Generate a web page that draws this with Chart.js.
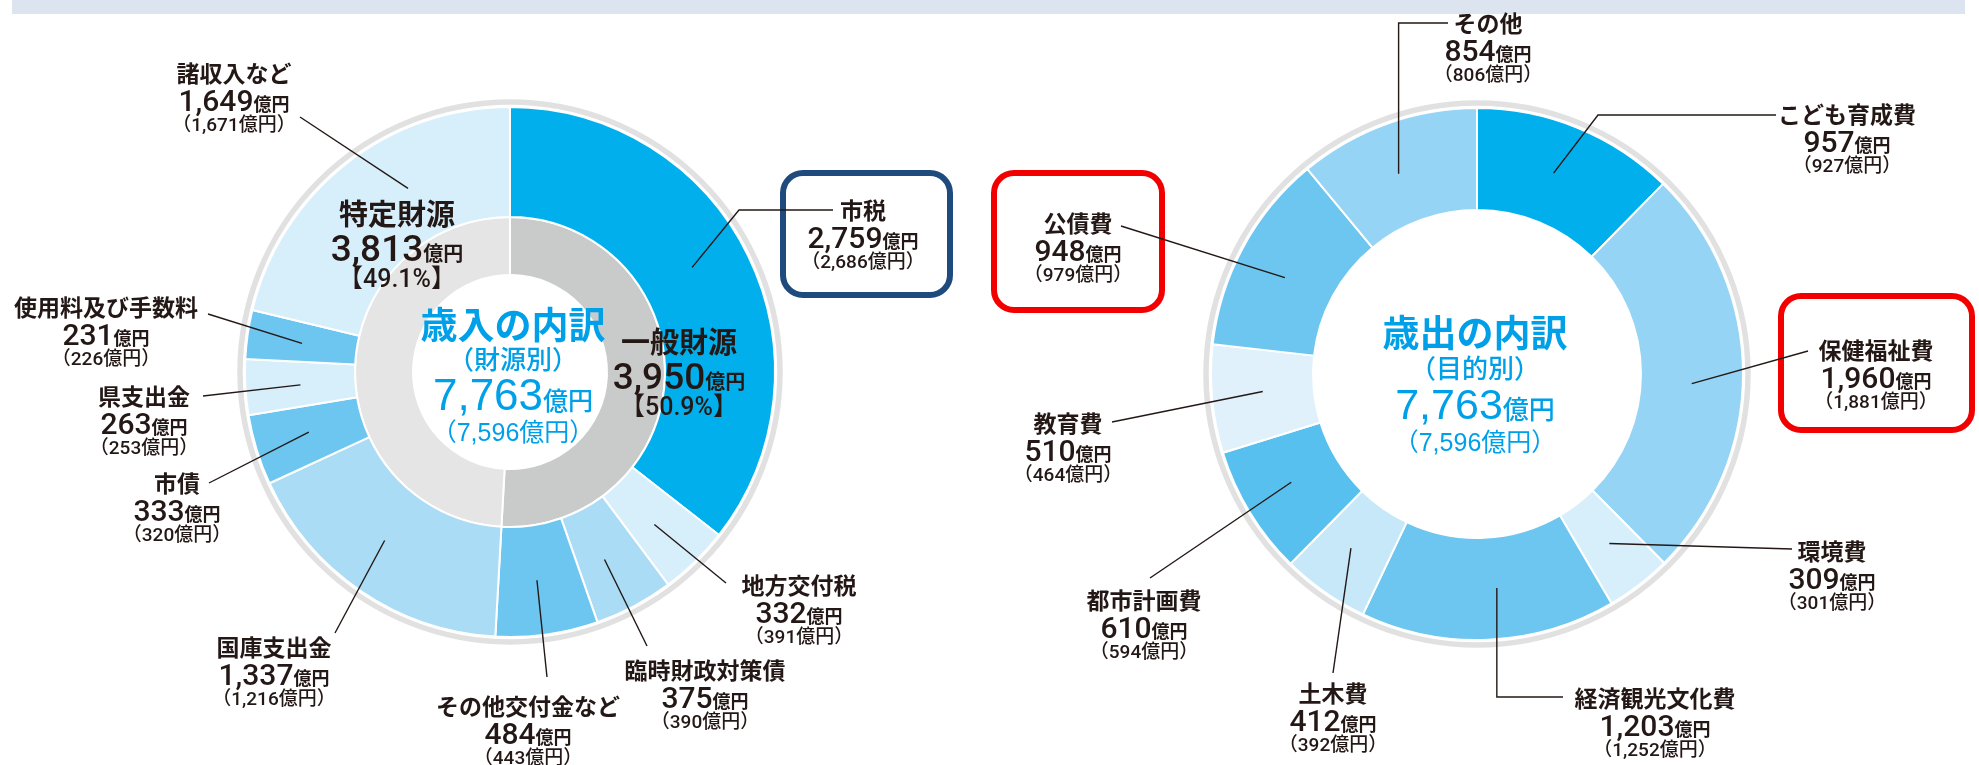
<!DOCTYPE html>
<html><head><meta charset="utf-8">
<script src="https://cdn.jsdelivr.net/npm/chart.js@4/dist/chart.umd.min.js"></script>
<style>
html,body{margin:0;padding:0;background:#fff;width:1979px;height:765px;overflow:hidden;position:relative}
#band{position:absolute;left:12px;top:0;width:1953px;height:14px;background:#dce5ef}
#c1{position:absolute;left:0;top:0}
#c2{position:absolute;left:980px;top:0}
</style></head><body>
<div id="band"></div>
<canvas id="c1" width="980" height="765"></canvas>
<canvas id="c2" width="999" height="765"></canvas>
<script>
// ---------- data ----------
const revenueCategories = ['市税','地方交付税','臨時財政対策債','その他交付金など','国庫支出金','市債','県支出金','使用料及び手数料','諸収入など'];
const revenueValues     = [2759, 332, 375, 484, 1337, 333, 263, 231, 1649];
const revenuePrevious   = [2686, 391, 390, 443, 1216, 320, 253, 226, 1671];
const sourceCategories  = ['一般財源','特定財源'];
const sourceValues      = [3950, 3813];
const expenditureCategories = ['こども育成費','保健福祉費','環境費','経済観光文化費','土木費','都市計画費','教育費','公債費','その他'];
const expenditureValues     = [957, 1960, 309, 1203, 412, 610, 510, 948, 854];
const expenditurePrevious   = [927, 1881, 301, 1252, 392, 594, 464, 979, 806];
const revenueTitle     = ['歳入の内訳','（財源別）'];
const expenditureTitle = ['歳出の内訳','（目的別）'];
const unitText = '億円';

// ---------- styles / layout ----------
const revenueColors = ['#00afec','#d7eefb','#abdcf5','#6cc6f0','#abdcf5','#6cc6f0','#d7eefb','#6cc6f0','#d7eefb'];
const sourceColors  = ['#c9caca','#e5e5e5'];
const expenditureColors = ['#00afec','#96d4f5','#d7eefb','#6cc6f0','#c7e8f9','#57c0ee','#e0f1fc','#6cc6f0','#96d4f5'];

const revenueLabelLayout = [
  {x:863, y:210, frac:0.47, path:[[833,210],[739,210]]},
  {x:799, y:585, frac:0.56, path:[[726,583]]},
  {x:705, y:670, frac:0.57, path:[[647,646]]},
  {x:528, y:706, frac:0.53, path:[[547,677]]},
  {x:274, y:647, frac:0.54, path:[[335,633]]},
  {x:177, y:483, frac:0.53, path:[[209,483]]},
  {x:144, y:396, frac:0.48, path:[[203,396]]},
  {x:106, y:307, frac:0.47, path:[[208,314]]},
  {x:234, y:73,  frac:0.62, path:[[300,117]]}
];
const sourceLabelLayout = [{x:679, y:342},{x:397, y:214}];
const expenditureLabelLayout = [
  {x:1847, y:114, frac:0.47, path:[[1776,115],[1598,115]]},
  {x:1876, y:350, frac:0.53, path:[[1808,351]]},
  {x:1832, y:551, frac:0.47, path:[[1792,549]]},
  {x:1655, y:698, frac:0.45, path:[[1563,697],[1496,697]], vert:true},
  {x:1333, y:693, frac:0.55, path:[[1333,673]]},
  {x:1144, y:600, frac:0.54, path:[[1150,578]]},
  {x:1068, y:423, frac:0.53, path:[[1112,422]]},
  {x:1078, y:223, frac:0.46, path:[[1121,226]]},
  {x:1488, y:23,  frac:0.46, path:[[1448,23],[1400,23]], vert:true}
];
const revenueBoxes = [{x:780, y:170, w:173, h:128, color:'#1f4a7d'}];
const expenditureBoxes = [
  {x:991, y:170, w:174, h:143, color:'#f20000'},
  {x:1778, y:293, w:197, h:140, color:'#f20000'}
];
const revenueCenterLayout = {x:513, y1:325, y2:359, y3:394, y4:432, num:44, unit:25};
const expenditureCenterLayout = {x:1475, y1:333, y2:368, y3:404, y4:442, num:43, unit:26};

const INK = '#231815';
const CYAN = '#00a0e9';
const FAM = '"Roboto","Noto Sans CJK JP",sans-serif';
const FAMC = '"Liberation Sans","Noto Sans CJK JP",sans-serif';
const font = (w, s) => w + ' ' + s + 'px ' + FAM;
const fontC = (w, s) => w + ' ' + s + 'px ' + FAMC;
const fmt = v => v.toLocaleString('en-US');
const total = a => a.reduce((s, v) => s + v, 0);

function runs(ctx, parts, cx, base) {
  let tw = 0;
  parts.forEach(p => { ctx.font = p.font; p.w = ctx.measureText(p.text).width; tw += p.w; });
  let x = cx - tw / 2;
  ctx.textAlign = 'left'; ctx.textBaseline = 'alphabetic';
  parts.forEach(p => { ctx.font = p.font; ctx.fillText(p.text, x, base); x += p.w; });
}

function labelBlock(ctx, name, value, prev, L) {
  ctx.fillStyle = INK;
  runs(ctx, [{text:name, font:font(600, 23)}], L.x, L.y + 8.7);
  runs(ctx, [{text:fmt(value), font:font(500, 30)}, {text:unitText, font:font(600, 18)}], L.x, L.y + 27 + 10.8);
  runs(ctx, [{text:'（' + fmt(prev) + unitText + '）', font:font(500, 19)}], L.x, L.y + 51 + 7);
}

function anchor(meta, i, frac) {
  const a = meta.data[i].getProps(['x','y','startAngle','endAngle','innerRadius','outerRadius'], true);
  const ang = a.startAngle + (a.endAngle - a.startAngle) * frac;
  const r = (a.innerRadius + a.outerRadius) / 2;
  return [a.x + r * Math.cos(ang), a.y + r * Math.sin(ang)];
}

function leader(ctx, L, pt) {
  const pts = L.path.map(p => p.slice());
  if (L.vert) pts[pts.length - 1][0] = pt[0];
  ctx.beginPath();
  ctx.moveTo(pts[0][0], pts[0][1]);
  for (let k = 1; k < pts.length; k++) ctx.lineTo(pts[k][0], pts[k][1]);
  ctx.lineTo(pt[0], pt[1]);
  ctx.strokeStyle = INK; ctx.lineWidth = 1.4; ctx.stroke();
}

function box(ctx, b) {
  const lw = 6, r = 20;
  const x = b.x + lw / 2, y = b.y + lw / 2, w = b.w - lw, h = b.h - lw;
  ctx.beginPath();
  ctx.moveTo(x + r, y);
  ctx.arcTo(x + w, y, x + w, y + h, r);
  ctx.arcTo(x + w, y + h, x, y + h, r);
  ctx.arcTo(x, y + h, x, y, r);
  ctx.arcTo(x, y, x + w, y, r);
  ctx.closePath();
  ctx.strokeStyle = b.color; ctx.lineWidth = lw; ctx.stroke();
}

function centerText(ctx, title, C, cur, prev) {
  ctx.fillStyle = CYAN;
  runs(ctx, [{text:title[0], font:fontC(700, 37)}], C.x, C.y1 + 14);
  runs(ctx, [{text:title[1], font:fontC(500, 26)}], C.x, C.y2 + 9.8);
  runs(ctx, [{text:fmt(cur), font:fontC(400, C.num)}, {text:unitText, font:fontC(500, C.unit)}], C.x, C.y3 + C.num * 0.358);
  runs(ctx, [{text:'（' + fmt(prev) + unitText + '）', font:fontC(400, 25)}], C.x, C.y4 + 9.2);
}

function grayRing(chart) {
  const a = chart.getDatasetMeta(0).data[0].getProps(['x','y','outerRadius'], true);
  const ctx = chart.ctx;
  ctx.save();
  ctx.beginPath();
  ctx.arc(a.x, a.y, a.outerRadius + 5, 0, Math.PI * 2);
  ctx.strokeStyle = '#e1e1e1'; ctx.lineWidth = 5.5; ctx.stroke();
  ctx.restore();
}

const revenuePlugin = {
  id: 'revenueDecor',
  beforeDatasetsDraw(chart) { grayRing(chart); },
  afterDatasetsDraw(chart) {
    const ctx = chart.ctx, ox = 0;
    ctx.save(); ctx.translate(-ox, 0);
    const meta = chart.getDatasetMeta(0);
    revenueBoxes.forEach(b => box(ctx, b));
    revenueLabelLayout.forEach((L, i) => {
      const p = anchor(meta, i, L.frac);
      leader(ctx, L, [p[0] + ox, p[1]]);
      labelBlock(ctx, revenueCategories[i], revenueValues[i], revenuePrevious[i], L);
    });
    const tot = total(sourceValues);
    sourceLabelLayout.forEach((L, i) => {
      ctx.fillStyle = INK;
      runs(ctx, [{text:sourceCategories[i], font:font(600, 29)}], L.x, L.y + 11);
      runs(ctx, [{text:fmt(sourceValues[i]), font:font(500, 37)}, {text:unitText, font:font(600, 20)}], L.x, L.y + 34 + 13.2);
      runs(ctx, [{text:'【' + (sourceValues[i] / tot * 100).toFixed(1) + '%】', font:font(500, 25)}], L.x, L.y + 64 + 9);
    });
    centerText(ctx, revenueTitle, revenueCenterLayout, total(revenueValues), total(revenuePrevious));
    ctx.restore();
  }
};

const expenditurePlugin = {
  id: 'expenditureDecor',
  beforeDatasetsDraw(chart) { grayRing(chart); },
  afterDatasetsDraw(chart) {
    const ctx = chart.ctx, ox = 980;
    ctx.save(); ctx.translate(-ox, 0);
    const meta = chart.getDatasetMeta(0);
    expenditureBoxes.forEach(b => box(ctx, b));
    expenditureLabelLayout.forEach((L, i) => {
      const p = anchor(meta, i, L.frac);
      leader(ctx, L, [p[0] + ox, p[1]]);
      labelBlock(ctx, expenditureCategories[i], expenditureValues[i], expenditurePrevious[i], L);
    });
    centerText(ctx, expenditureTitle, expenditureCenterLayout, total(expenditureValues), total(expenditurePrevious));
    ctx.restore();
  }
};

const common = {
  responsive: false, animation: false, devicePixelRatio: 1, events: [],
  plugins: { legend: { display: false }, tooltip: { enabled: false } }
};

new Chart(document.getElementById('c1'), {
  type: 'doughnut',
  data: {
    labels: revenueCategories,
    datasets: [
      { data: revenueValues, backgroundColor: revenueColors, borderColor: '#fff', borderWidth: 2, weight: 110 },
      { data: sourceValues, backgroundColor: sourceColors, borderColor: '#fff', borderWidth: 2, weight: 58 }
    ]
  },
  options: Object.assign({}, common, {
    radius: 265, cutout: '36.6%',
    layout: { padding: { left: 40, right: 0, top: 0, bottom: 21 } }
  }),
  plugins: [revenuePlugin]
});

new Chart(document.getElementById('c2'), {
  type: 'doughnut',
  data: {
    labels: expenditureCategories,
    datasets: [
      { data: expenditureValues, backgroundColor: expenditureColors, borderColor: '#fff', borderWidth: 2 }
    ]
  },
  options: Object.assign({}, common, {
    radius: 266, cutout: '61.65%',
    layout: { padding: { left: 0, right: 5, top: 0, bottom: 17 } }
  }),
  plugins: [expenditurePlugin]
});
</script></body></html>
